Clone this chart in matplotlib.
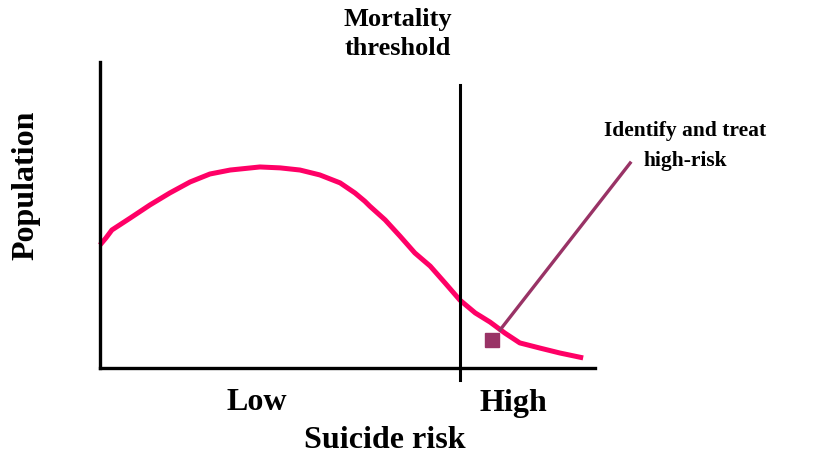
import matplotlib.pyplot as plt

plt.rcParams['font.family'] = ['Liberation Serif', 'DejaVu Serif']
plt.rcParams['font.weight'] = 'bold'

# Population curve (risk scale 0-10, population in arbitrary units)
risk = [0, 0.12, 0.24, 0.61, 1.01, 1.41, 1.82, 2.22, 2.63, 3.23, 3.64, 4.04, 4.44,
        4.85, 5.15, 5.35, 5.45, 5.76, 6.06, 6.36, 6.67, 6.97, 7.27, 7.58, 7.88,
        8.18, 8.48, 8.89, 9.29, 9.76]
population = [4.02, 4.25, 4.51, 4.90, 5.33, 5.72, 6.08, 6.34, 6.47, 6.57, 6.54, 6.47,
              6.31, 6.05, 5.72, 5.45, 5.29, 4.84, 4.31, 3.76, 3.33, 2.78, 2.22, 1.80,
              1.50, 1.14, 0.82, 0.65, 0.49, 0.33]

threshold = 7.27
marker_pt = (7.92, 0.92)
pointer_start = (8.08, 1.24)
pointer_end = (10.71, 6.70)

fig = plt.figure(figsize=(8.15, 4.58), dpi=100)
ax = fig.add_axes([0.1227, 0.1965, 0.6074, 0.6681])
ax.set_xlim(0, 10)
ax.set_ylim(0, 10)

ax.plot(risk, population, color='#ff0066', linewidth=3.6, solid_capstyle='butt',
        solid_joinstyle='round', clip_on=False)

# mortality threshold
ax.plot([threshold, threshold], [-0.39, 9.25], color='black', linewidth=2.2, clip_on=False)

# pointer to high-risk group
ax.plot([pointer_start[0], pointer_end[0]], [pointer_start[1], pointer_end[1]],
        color='#993366', linewidth=2.4, clip_on=False)
ax.plot([marker_pt[0]], [marker_pt[1]], marker='s', markersize=10,
        color='#993366', clip_on=False)

for s in ['top', 'right']:
    ax.spines[s].set_visible(False)
for s in ['left', 'bottom']:
    ax.spines[s].set_linewidth(2.4)
ax.set_xticks([])
ax.set_yticks([])

fig.text(398 / 815, 1 - 34 / 458, 'Mortality\nthreshold', ha='center', va='center',
         fontsize=19, fontweight='bold', linespacing=1.35)
fig.text(685 / 815, 1 - 146 / 458, 'Identify and treat\nhigh-risk', ha='center', va='center',
         fontsize=15.5, fontweight='bold', linespacing=1.7)
fig.text(257 / 815, 1 - 403 / 458, 'Low', ha='center', va='center', fontsize=23, fontweight='bold')
fig.text(513 / 815, 1 - 403 / 458, 'High', ha='center', va='center', fontsize=23, fontweight='bold')
fig.text(385 / 815, 1 - 440 / 458, 'Suicide risk', ha='center', va='center', fontsize=23, fontweight='bold')
fig.text(26 / 815, 1 - 185 / 458, 'Population', ha='center', va='center', rotation=90,
         fontsize=23, fontweight='bold')

fig.savefig('out.png', dpi=100)
